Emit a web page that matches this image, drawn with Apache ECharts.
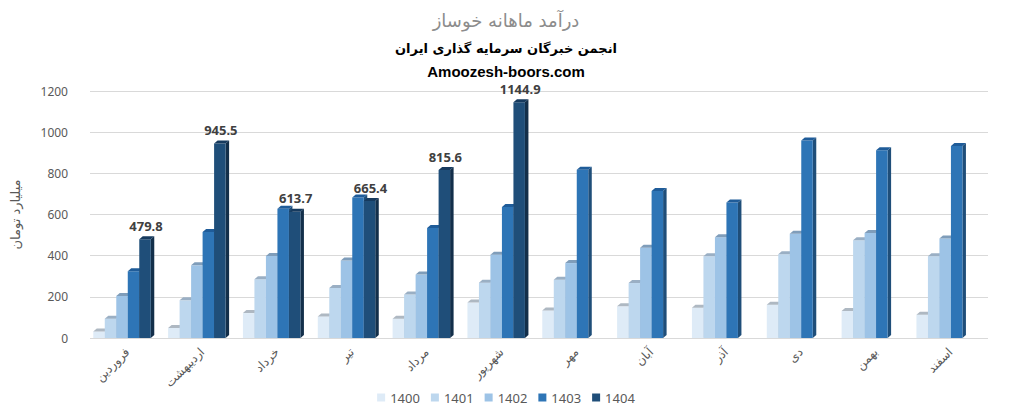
<!DOCTYPE html>
<html><head><meta charset="utf-8">
<script src="https://cdn.jsdelivr.net/npm/echarts@6/dist/echarts.min.js"></script>
<style>html,body{margin:0;padding:0;background:#fff}#c{width:1012px;height:418px}</style>
</head><body><div id="c"></div>
<script>
const categories = ['فروردین','اردیبهشت','خرداد','تیر','مرداد','شهریور','مهر','آبان','آذر','دی','بهمن','اسفند'];
const years = ['1400','1401','1402','1403','1404'];
const v1400 = [32,49,121,105,94,172,134,154,147,162,131,113];
const v1401 = [94,183,285,243,211,269,283,267,397,407,475,397];
const v1402 = [204,353,398,377,308,405,364,439,489,507,510,483];
const v1403 = [324,515,628,683,534,637,818,714,658,960,912,933];
const v1404 = [479.8,945.5,613.7,665.4,815.6,1144.9,null,null,null,null,null,null];
const yTicks = [0,200,400,600,800,1000,1200];

const values = [v1400,v1401,v1402,v1403,v1404];
const fronts = ['#DEEBF7','#BDD7EE','#9DC3E6','#2E75B6','#1F4E79'];
const sides  = ['#B9C6D3','#9FB6CC','#7FA5CA','#1F4E79','#132F4A'];
const caps   = ['#AEB8C2','#9AAFC4','#7F9DBA','#1F5C99','#163A5E'];
const labelled = [false,false,false,false,true];

const BW = 11.5, D = 3.5, DY = 3, SHIFT = -5.4;

function makeSeries(si){
  return {
    name: years[si], type: 'custom',
    itemStyle: {color: fronts[si]},
    encode: {x: 0, y: 1},
    data: values[si].map((v,i)=>[i, v]),
    z: 2 + si,
    renderItem: function(params, api){
      const v = api.value(1);
      if (v === null || v === undefined || isNaN(v)) return null;
      const c = api.value(0);
      const base = api.coord([c, 0]);
      const top = api.coord([c, v]);
      const x0 = base[0] + SHIFT - 2.5*BW + si*BW;
      const yb = base[1], yt = top[1];
      const children = [
        {type:'polygon', shape:{points:[[x0+BW,yt],[x0+BW+D,yt-DY],[x0+BW+D,yb-DY],[x0+BW,yb]]}, style:{fill:sides[si]}},
        {type:'rect', shape:{x:x0, y:yt, width:BW, height:yb-yt}, style:{fill:fronts[si]}},
        {type:'polygon', shape:{points:[[x0,yt],[x0+D,yt-DY],[x0+BW+D,yt-DY],[x0+BW,yt]]}, style:{fill:caps[si]}}
      ];
      if (labelled[si]) {
        children.push({type:'text', style:{text: v.toFixed(1), x: x0+BW/2+1, y: yt-7, textAlign:'center', textVerticalAlign:'bottom',
          font:'bold 13px "Noto Sans"', fill:'#404040'}});
      }
      return {type:'group', children: children};
    }
  };
}

const chart = echarts.init(document.getElementById('c'), null, {renderer:'svg'});
chart.setOption({
  animation: false,
  title: [
    {text:'درآمد ماهانه خوساز', left:'center', top:6, textStyle:{fontFamily:'DejaVu Sans', fontSize:18, fontWeight:'normal', color:'#8C8C8C'}},
    {text:'انجمن خبرگان سرمایه گذاری ایران', left:'center', top:37, textStyle:{fontFamily:'DejaVu Sans', fontSize:13, fontWeight:'bold', color:'#000'}},
    {text:'Amoozesh-boors.com', left:'center', top:59, textStyle:{fontFamily:'Liberation Sans', fontSize:15, fontWeight:'bold', color:'#000'}}
  ],
  legend: {
    data: years, bottom: 9, left:'center', icon:'rect', itemWidth:8, itemHeight:8, itemGap:11,
    textStyle:{fontFamily:'Noto Sans', fontSize:13, color:'#595959'}
  },
  grid: {left:90, right:24, top:91, bottom:80},
  xAxis: {
    type:'category', data: categories,
    axisLine:{show:false}, axisTick:{show:false},
    axisLabel:{rotate:45, margin:12, interval:0, fontFamily:'DejaVu Sans', fontSize:12, color:'#595959'}
  },
  yAxis: {
    type:'value', min:0, max:1200, interval:200,
    name:'میلیارد تومان', nameLocation:'middle', nameGap:68, nameRotate:90,
    nameTextStyle:{fontFamily:'DejaVu Sans', fontSize:13, color:'#595959'},
    axisLine:{show:false}, axisTick:{show:false},
    axisLabel:{margin:22, fontFamily:'Noto Sans', fontSize:12, color:'#595959',
      formatter: v => yTicks.includes(v) ? String(v) : ''},
    splitLine:{lineStyle:{color:'#D9D9D9', width:1}}
  },
  series: years.map((y,i)=>makeSeries(i))
});
</script></body></html>
